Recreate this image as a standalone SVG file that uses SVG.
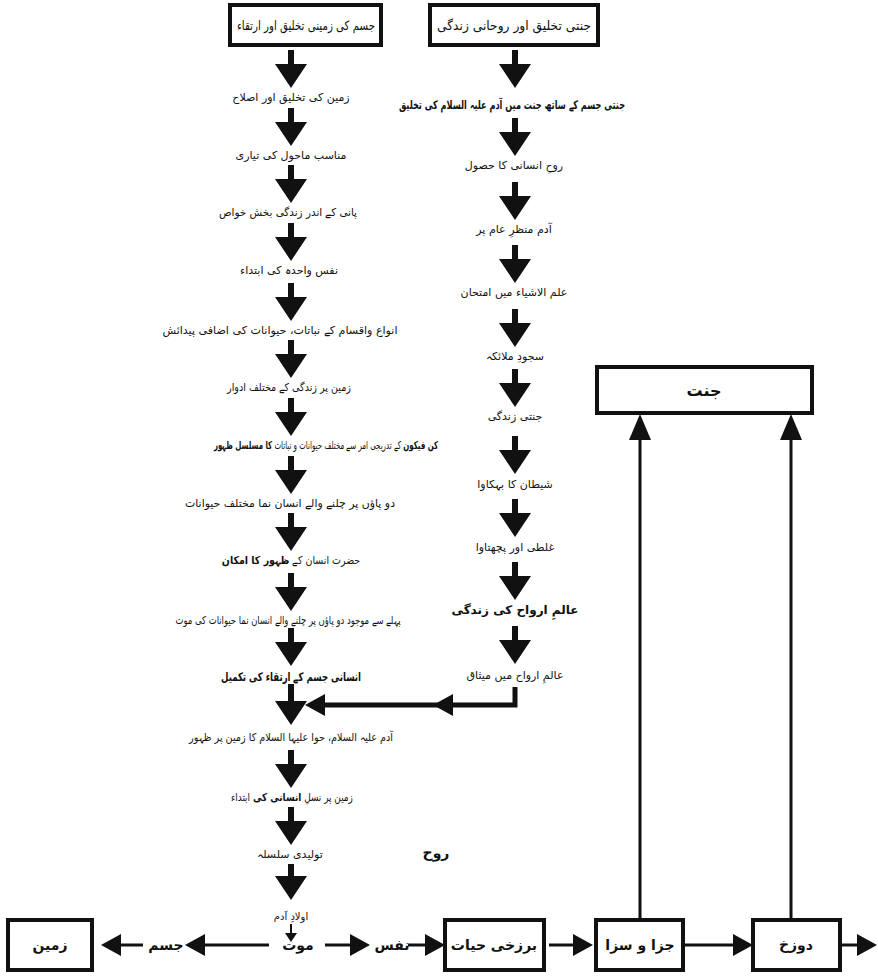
<svg xmlns="http://www.w3.org/2000/svg" width="878" height="980" viewBox="0 0 878 980">
<style>
text{font-family:'DejaVu Sans','Noto Sans',sans-serif;fill:#111;text-anchor:middle;direction:rtl}
.t{font-size:11px}
.b{font-weight:bold}
.bx{fill:#fff;stroke:#111;stroke-width:4}
.ln{stroke:#111;stroke-width:3;fill:none}
.hl{stroke:#111;stroke-width:5;fill:none}
.lab{font-size:14px;font-weight:bold}
</style>
<defs>
<path id="ad" d="M-3,-38 H3 V-24 H16 L0,0 L-16,-24 H-3 Z" fill="#111"/>
<path id="al" d="M0,0 L20,-11 L20,11 Z" fill="#111"/>
<path id="ar" d="M0,0 L-20,-11 L-20,11 Z" fill="#111"/>
<path id="au" d="M0,0 L11,26 L-11,26 Z" fill="#111"/>
</defs>
<rect width="878" height="980" fill="#fff"/>

<g id="connectors">
<use href="#ad" x="291" y="88"/>
<use href="#ad" x="291" y="146"/>
<use href="#ad" x="291" y="203"/>
<use href="#ad" x="291" y="261"/>
<use href="#ad" x="291" y="321"/>
<use href="#ad" x="291" y="378"/>
<use href="#ad" x="291" y="436"/>
<use href="#ad" x="291" y="494"/>
<use href="#ad" x="291" y="551"/>
<use href="#ad" x="291" y="611"/>
<use href="#ad" x="291" y="666"/>
<path d="M288,684 H294 V701 H307 L291,725 L275,701 H288 Z" fill="#111"/>
<use href="#ad" x="291" y="788"/>
<use href="#ad" x="291" y="845"/>
<path d="M288,864 H294 V876 H307 L291,900 L275,876 H288 Z" fill="#111"/>
<path d="M291,924 V934" class="ln" style="stroke-width:2"/>
<path d="M285,933 L297,933 L291,942 Z" fill="#111"/>

<use href="#ad" x="515" y="88"/>
<use href="#ad" x="515" y="156"/>
<use href="#ad" x="515" y="220"/>
<use href="#ad" x="515" y="283"/>
<use href="#ad" x="515" y="347"/>
<use href="#ad" x="515" y="407"/>
<use href="#ad" x="515" y="474"/>
<use href="#ad" x="515" y="537"/>
<use href="#ad" x="515" y="600"/>
<use href="#ad" x="515" y="664"/>
<path d="M515,687 V705 H310" class="hl"/>
<use href="#al" x="433" y="705"/>
<use href="#al" x="305" y="705"/>

<path d="M115,945 H143" class="ln"/>
<use href="#al" x="101" y="945"/>
<path d="M200,945 H269" class="ln"/>
<use href="#al" x="185" y="945"/>
<path d="M325,945 H350" class="ln"/>
<use href="#ar" x="370" y="945"/>
<path d="M408,945 H430" class="ln"/>
<use href="#ar" x="445" y="945"/>
<path d="M549,945 H575" class="ln"/>
<use href="#ar" x="593" y="945"/>
<path d="M683,945 H736" class="ln"/>
<use href="#ar" x="753" y="945"/>
<path d="M840,945 H860" class="ln"/>
<use href="#ar" x="877" y="945"/>
<path d="M640,920 V436" class="ln"/>
<use href="#au" x="640" y="414"/>
<path d="M791,920 V436" class="ln"/>
<use href="#au" x="791" y="414"/>
</g>

<g id="n-body">
<rect class="bx" x="230" y="5" width="151" height="40"/>
<text x="306" y="30" style="font-size:13px" textLength="138" lengthAdjust="spacingAndGlyphs">جسم کی زمینی تخلیق اور ارتقاء</text>
</g>
<g id="n-soul">
<rect class="bx" x="430" y="5" width="168" height="40"/>
<text x="514" y="30" style="font-size:13px" textLength="154" lengthAdjust="spacingAndGlyphs">جنتی تخلیق اور روحانی زندگی</text>
</g>

<g id="n-l1"><text class="t" x="291" y="101">زمین کی تخلیق اور اصلاح</text></g>
<g id="n-l2"><text class="t" x="291" y="159">مناسب ماحول کی تیاری</text></g>
<g id="n-l3"><text class="t" x="288" y="216" textLength="138" lengthAdjust="spacingAndGlyphs">پانی کے اندر زندگی بخش خواص</text></g>
<g id="n-l4"><text class="t" x="289" y="274">نفس واحدہ کی ابتداء</text></g>
<g id="n-l5"><text class="t" x="280" y="334" textLength="235" lengthAdjust="spacingAndGlyphs">انواع واقسام کے نباتات، حیوانات کی اضافی پیدائش</text></g>
<g id="n-l6"><text class="t" x="289" y="391" textLength="124" lengthAdjust="spacingAndGlyphs">زمین پر زندگی کے مختلف ادوار</text></g>
<g id="n-l7"><text class="t" transform="translate(326,449) scale(0.64,1)" x="0" y="0"><tspan class="b">کن فیکون</tspan> کے تدریجی امر سے مختلف حیوانات و نباتات <tspan class="b">کا مسلسل ظہور</tspan></text></g>
<g id="n-l8"><text class="t" x="290" y="507" textLength="210" lengthAdjust="spacingAndGlyphs">دو پاؤں پر چلنے والے انسان نما مختلف حیوانات</text></g>
<g id="n-l9"><text class="t" transform="translate(291,564) scale(0.86,1)" x="0" y="0">حضرت انسان کے <tspan class="b">ظہور کا امکان</tspan></text></g>
<g id="n-l10"><text class="t" x="288" y="624" textLength="225" lengthAdjust="spacingAndGlyphs">پہلے سے موجود دو پاؤں پر چلنے والے انسان نما حیوانات کی موت</text></g>
<g id="n-l11"><text class="t b" x="291" y="681" style="font-size:12px" textLength="140" lengthAdjust="spacingAndGlyphs">انسانی جسم کے ارتقاء کی تکمیل</text></g>
<g id="n-l12"><text class="t" x="291" y="741" textLength="204" lengthAdjust="spacingAndGlyphs">آدم علیہ السلام، حوا علیہا السلام کا زمین پر ظہور</text></g>
<g id="n-l13"><text class="t" transform="translate(292,801) scale(0.81,1)" x="0" y="0">زمین پر نسلِ <tspan class="b">انسانی کی</tspan> ابتداء</text></g>
<g id="n-l14"><text class="t" x="290" y="858">تولیدی سلسلہ</text></g>
<g id="n-l15"><text class="t" x="291" y="920" style="font-size:10px">اولادِ آدم</text></g>

<g id="n-r1"><text class="t b" x="512" y="109" style="font-size:12px" textLength="226" lengthAdjust="spacingAndGlyphs">جنتی جسم کے ساتھ جنت میں آدم علیہ السلام کی تخلیق</text></g>
<g id="n-r2"><text class="t" x="514" y="169">روحِ انسانی کا حصول</text></g>
<g id="n-r3"><text class="t" x="514" y="233">آدم منظرِ عام پر</text></g>
<g id="n-r4"><text class="t" x="514" y="296">علم الاشیاء میں امتحان</text></g>
<g id="n-r5"><text class="t" x="515" y="360">سجودِ ملائکہ</text></g>
<g id="n-r6"><text class="t" x="515" y="420">جنتی زندگی</text></g>
<g id="n-r7"><text class="t" x="515" y="488">شیطان کا بہکاوا</text></g>
<g id="n-r8"><text class="t" x="515" y="551">غلطی اور پچھتاوا</text></g>
<g id="n-r9"><text class="t b" x="515" y="614" style="font-size:12px">عالمِ ارواح کی زندگی</text></g>
<g id="n-r10"><text class="t" x="515" y="679">عالمِ ارواح میں میثاق</text></g>

<g id="n-ruh"><text class="lab" x="436" y="858">روح</text></g>

<g id="n-jannat">
<rect class="bx" x="597" y="367" width="215" height="46"/>
<text x="704" y="396" style="font-size:16px;font-weight:bold">جنت</text>
</g>
<g id="n-zameen">
<rect class="bx" x="8" y="920" width="84" height="50"/>
<text class="lab" x="50" y="950">زمین</text>
</g>
<g id="n-jism"><text class="lab" x="166" y="950">جسم</text></g>
<g id="n-maut"><text class="lab" x="298" y="950">موت</text></g>
<g id="n-nafs"><text class="lab" x="392" y="950">نفس</text></g>
<g id="n-barzakh">
<rect class="bx" x="445" y="920" width="99" height="50"/>
<text class="lab" x="494" y="950">برزخی حیات</text>
</g>
<g id="n-jaza">
<rect class="bx" x="596" y="920" width="87" height="50"/>
<text class="lab" x="640" y="950">جزا و سزا</text>
</g>
<g id="n-dozakh">
<rect class="bx" x="753" y="920" width="87" height="50"/>
<text class="lab" x="796" y="950">دوزخ</text>
</g>
</svg>
